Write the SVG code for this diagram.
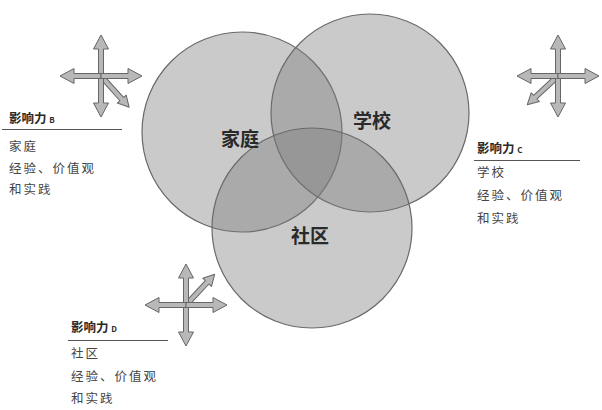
<svg xmlns="http://www.w3.org/2000/svg" width="602" height="410" viewBox="0 0 602 410">
<style>
.c{fill:#7a7a7a;fill-opacity:0.4;stroke:#6a6a6a;stroke-width:1.2}
.lbl{font-family:"Noto Sans CJK SC","Liberation Sans",sans-serif;font-weight:bold;font-size:19px;fill:#2a2a2a;text-anchor:middle}
.h{font-family:"Noto Sans CJK SC","Liberation Sans",sans-serif;font-weight:bold;font-size:12.5px;fill:#2a2a2a}
.hs{font-size:8px}
.t{font-family:"Noto Sans CJK SC","Liberation Sans",sans-serif;font-size:12.5px;fill:#444;letter-spacing:2px}
.rule{stroke:#555;stroke-width:1}
.ar{fill:#b8b8b8;stroke:#666;stroke-width:1;stroke-linejoin:round}
</style>
<defs>
<polygon id="arr" class="ar" points="0,-2.5 27,-2.5 27,-7.5 41,0 27,7.5 27,2.5 0,2.5"/>
<polygon id="darr" class="ar" points="0,-2.5 31,-2.5 31,-6 42,0 31,6 31,2.5 0,2.5"/>
</defs>
<rect width="602" height="410" fill="#ffffff"/>
<g id="circles">
<g id="family"><circle class="c" cx="242" cy="132" r="100"/></g>
<g id="school"><circle class="c" cx="370" cy="113" r="99"/></g>
<g id="community"><circle class="c" cx="312" cy="228" r="100"/></g>
</g>
<g id="labels">
<text class="lbl" x="240" y="146">家庭</text>
<text class="lbl" x="372" y="128">学校</text>
<text class="lbl" x="310" y="243">社区</text>
</g>
<g id="connectors">
<g id="arrowsB" transform="translate(101,76)">
<use href="#darr" transform="rotate(48)"/>
<use href="#arr" transform="rotate(-90)"/>
<use href="#arr" transform="rotate(90)"/>
<use href="#arr" transform="rotate(180)"/>
<use href="#arr"/>
</g>
<g id="arrowsC" transform="translate(558,76)">
<use href="#darr" transform="rotate(137)"/>
<use href="#arr" transform="rotate(-90)"/>
<use href="#arr" transform="rotate(90)"/>
<use href="#arr" transform="rotate(180)"/>
<use href="#arr"/>
</g>
<g id="arrowsD" transform="translate(186,305)">
<use href="#darr" transform="rotate(-47)"/>
<use href="#arr" transform="rotate(-90)"/>
<use href="#arr" transform="rotate(90)"/>
<use href="#arr" transform="rotate(180)"/>
<use href="#arr"/>
</g>
</g>
<g id="influenceB">
<text class="h" x="9" y="123">影响力 <tspan class="hs">B</tspan></text>
<line class="rule" x1="2" y1="129.5" x2="122" y2="129.5"/>
<text class="t" x="9" y="151">家庭</text>
<text class="t" x="9" y="173">经验、价值观</text>
<text class="t" x="9" y="194">和实践</text>
</g>
<g id="influenceC">
<text class="h" x="477" y="153">影响力 <tspan class="hs">C</tspan></text>
<line class="rule" x1="474" y1="160.5" x2="580" y2="160.5"/>
<text class="t" x="477" y="177">学校</text>
<text class="t" x="477" y="200">经验、价值观</text>
<text class="t" x="477" y="223">和实践</text>
</g>
<g id="influenceD">
<text class="h" x="71" y="332">影响力 <tspan class="hs">D</tspan></text>
<line class="rule" x1="68" y1="340.5" x2="168" y2="340.5"/>
<text class="t" x="71" y="358">社区</text>
<text class="t" x="71" y="381">经验、价值观</text>
<text class="t" x="71" y="403">和实践</text>
</g>
</svg>
